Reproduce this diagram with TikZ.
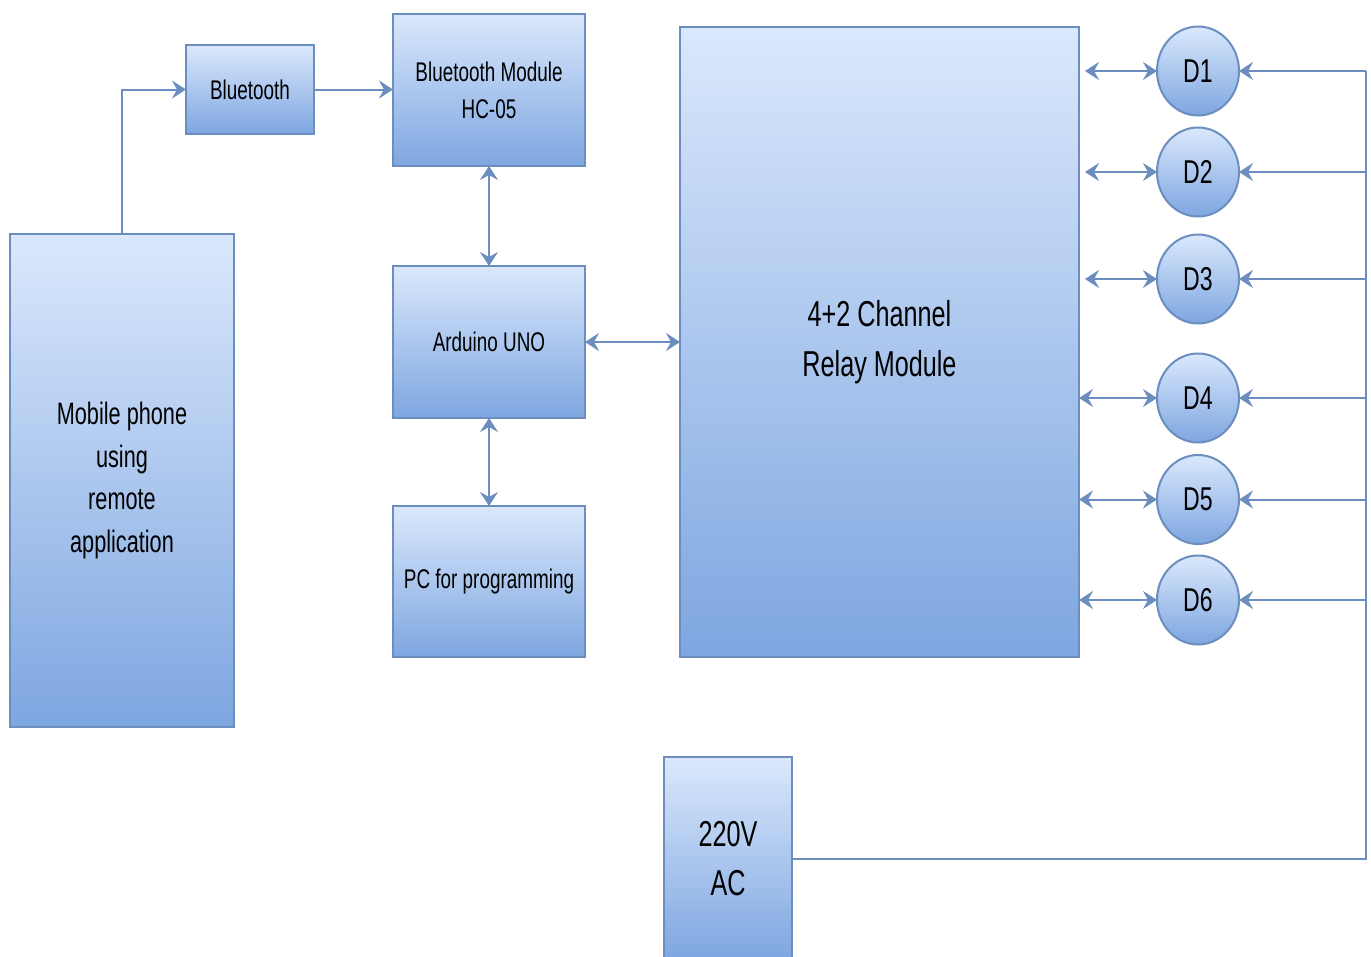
\documentclass[tikz,border=0pt]{standalone}
\usepackage{fontspec}
\setmainfont{Liberation Sans}[FakeStretch=0.7]
\usetikzlibrary{shapes.geometric,arrows.meta}
\definecolor{topblue}{HTML}{DAE8FC}
\definecolor{botblue}{HTML}{7EA6E0}
\definecolor{lineblue}{HTML}{6C8EBF}
\newcommand\fsz[1]{\fontsize{#1}{\dimexpr #1pt*138/100\relax}\selectfont}
\tikzset{
  box/.style={draw=lineblue, line width=2pt, top color=topblue, bottom color=botblue,
    rectangle, inner sep=0pt, outer sep=0pt, align=center, font=\fsz{27}},
  dnode/.style={draw=lineblue, line width=2pt, top color=topblue, bottom color=botblue,
    ellipse, minimum width=82pt, minimum height=89pt, inner sep=0pt, outer sep=0pt, font=\fsz{33}},
  tip/.tip={Stealth[length=14pt,width=18pt,inset=5pt]},
  wire/.style={draw=lineblue, line width=2pt},
  conn/.style={wire, -tip},
  biconn/.style={wire, tip-tip},
}
\begin{document}
\begin{tikzpicture}[x=1pt,y=-1pt]
\useasboundingbox (0,0) rectangle (1371,956);
\fill[white] (0,0) rectangle (1371,956);
% boxes
\node[box, minimum width=224pt, minimum height=493pt, font=\fsz{31}] (mob) at (122,480.5)
  {Mobile phone\\using\\remote\\application};
\node[box, minimum width=128pt, minimum height=89pt] (bt) at (250,89.5) {Bluetooth};
\node[box, minimum width=192pt, minimum height=152pt] (btm) at (489,90) {Bluetooth Module\\HC-05};
\node[box, minimum width=192pt, minimum height=152pt] (ard) at (489,342) {Arduino UNO};
\node[box, minimum width=192pt, minimum height=151pt] (pc) at (489,581.5) {PC for programming};
\node[box, minimum width=399pt, minimum height=630pt, font=\fsz{36}] (relay) at (879.5,342)
  {4+2 Channel\\Relay Module};
\node[box, minimum width=128pt, minimum height=203pt, font=\fsz{36}] (ac) at (728,858.5) {220V\\AC};
% D nodes
\node[dnode] (d1) at (1198,71) {D1};
\node[dnode] (d2) at (1198,172) {D2};
\node[dnode] (d3) at (1198,279) {D3};
\node[dnode] (d4) at (1198,398) {D4};
\node[dnode] (d5) at (1198,499.5) {D5};
\node[dnode] (d6) at (1198,600) {D6};
\coordinate (busx) at (1366,0);
% connectors
\draw[conn] (mob.north) |- (bt.west);
\draw[conn] (bt.east) -- (bt.east -| btm.west);
\draw[biconn] (btm.south) -- (ard.north);
\draw[biconn] (ard.south) -- (pc.north);
\draw[biconn] (ard.east) -- (ard.east -| relay.west);
\foreach \d in {d1,d2,d3}{
  \draw[biconn, shorten <=6pt] (relay.east |- \d.west) -- (\d.west);
}
\foreach \d in {d4,d5,d6}{
  \draw[biconn] (relay.east |- \d.west) -- (\d.west);
}
\foreach \d in {d1,d2,d3,d4,d5,d6}{
  \draw[conn] (\d.east -| busx) -- (\d.east);
}
\draw[wire] (d1.east -| busx) -- (ac.east -| busx) -- (ac.east);
\end{tikzpicture}
\end{document}
